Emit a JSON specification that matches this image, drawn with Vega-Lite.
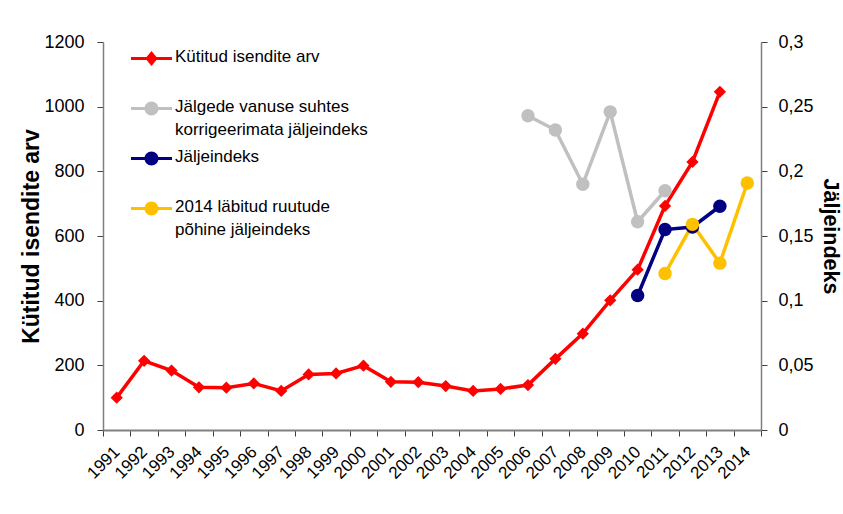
{
  "$schema": "https://vega.github.io/schema/vega-lite/v6.json",
  "autosize": {"type": "none"},
  "width": 658,
  "height": 388,
  "padding": {"left": 103, "top": 42, "right": 82, "bottom": 84},
  "config": {
    "view": {"stroke": null},
    "font": "Liberation Sans",
    "axis": {"labelFont": "Liberation Sans", "titleFont": "Liberation Sans", "labelColor": "#000000", "titleColor": "#000000", "grid": false, "domainColor": "#808080", "tickColor": "#404040", "domainWidth": 1.5, "tickWidth": 1}
  },
  "datasets": {
    "main": [
      {"year": "1991", "s": "Kütitud isendite arv", "v": 100},
      {"year": "1992", "s": "Kütitud isendite arv", "v": 214},
      {"year": "1993", "s": "Kütitud isendite arv", "v": 184},
      {"year": "1994", "s": "Kütitud isendite arv", "v": 132},
      {"year": "1995", "s": "Kütitud isendite arv", "v": 131},
      {"year": "1996", "s": "Kütitud isendite arv", "v": 144},
      {"year": "1997", "s": "Kütitud isendite arv", "v": 121},
      {"year": "1998", "s": "Kütitud isendite arv", "v": 172},
      {"year": "1999", "s": "Kütitud isendite arv", "v": 175},
      {"year": "2000", "s": "Kütitud isendite arv", "v": 199},
      {"year": "2001", "s": "Kütitud isendite arv", "v": 149},
      {"year": "2002", "s": "Kütitud isendite arv", "v": 148},
      {"year": "2003", "s": "Kütitud isendite arv", "v": 136},
      {"year": "2004", "s": "Kütitud isendite arv", "v": 121},
      {"year": "2005", "s": "Kütitud isendite arv", "v": 127},
      {"year": "2006", "s": "Kütitud isendite arv", "v": 139},
      {"year": "2007", "s": "Kütitud isendite arv", "v": 220},
      {"year": "2008", "s": "Kütitud isendite arv", "v": 298},
      {"year": "2009", "s": "Kütitud isendite arv", "v": 401},
      {"year": "2010", "s": "Kütitud isendite arv", "v": 496},
      {"year": "2011", "s": "Kütitud isendite arv", "v": 693},
      {"year": "2012", "s": "Kütitud isendite arv", "v": 829},
      {"year": "2013", "s": "Kütitud isendite arv", "v": 1046},
      {"year": "2006", "s": "Jälgede vanuse suhtes korrigeerimata jäljeindeks", "v": 0.243},
      {"year": "2007", "s": "Jälgede vanuse suhtes korrigeerimata jäljeindeks", "v": 0.232},
      {"year": "2008", "s": "Jälgede vanuse suhtes korrigeerimata jäljeindeks", "v": 0.190},
      {"year": "2009", "s": "Jälgede vanuse suhtes korrigeerimata jäljeindeks", "v": 0.246},
      {"year": "2010", "s": "Jälgede vanuse suhtes korrigeerimata jäljeindeks", "v": 0.161},
      {"year": "2011", "s": "Jälgede vanuse suhtes korrigeerimata jäljeindeks", "v": 0.185},
      {"year": "2010", "s": "Jäljeindeks", "v": 0.104},
      {"year": "2011", "s": "Jäljeindeks", "v": 0.155},
      {"year": "2012", "s": "Jäljeindeks", "v": 0.157},
      {"year": "2013", "s": "Jäljeindeks", "v": 0.173},
      {"year": "2011", "s": "2014 läbitud ruutude põhine jäljeindeks", "v": 0.121},
      {"year": "2012", "s": "2014 läbitud ruutude põhine jäljeindeks", "v": 0.159},
      {"year": "2013", "s": "2014 läbitud ruutude põhine jäljeindeks", "v": 0.129},
      {"year": "2014", "s": "2014 läbitud ruutude põhine jäljeindeks", "v": 0.191}
    ]
  },
  "data": {"name": "main"},
  "encoding": {
    "x": {
      "field": "year", "type": "ordinal",
      "scale": {"domain": ["1991","1992","1993","1994","1995","1996","1997","1998","1999","2000","2001","2002","2003","2004","2005","2006","2007","2008","2009","2010","2011","2012","2013","2014"], "paddingInner": 0, "paddingOuter": 0},
      "axis": {"title": null, "labelAngle": -45, "labelAlign": "right", "labelBaseline": "middle", "labelFontSize": 17, "labelPadding": 13, "tickBand": "extent", "tickSize": 6, "tickOffset": 0, "domainWidth": 2}
    },
    "color": {
      "field": "s", "type": "nominal",
      "scale": {"domain": ["Kütitud isendite arv", "Jälgede vanuse suhtes korrigeerimata jäljeindeks", "Jäljeindeks", "2014 läbitud ruutude põhine jäljeindeks"], "range": ["#FF0000", "#C0C0C0", "#000080", "#FFC000"]},
      "legend": {
        "title": null, "orient": "none", "legendX": 28, "legendY": -4,
        "labelFontSize": 17, "labelFont": "Liberation Sans", "labelColor": "#000000",
        "symbolSize": 1681, "labelOffset": 3, "rowPadding": 0,
        "labelLimit": 400,
        "labelExpr": "datum.label == 'Jälgede vanuse suhtes korrigeerimata jäljeindeks' ? ['Jälgede vanuse suhtes', 'korrigeerimata jäljeindeks'] : datum.label == '2014 läbitud ruutude põhine jäljeindeks' ? ['2014 läbitud ruutude', 'põhine jäljeindeks'] : [datum.label, ' ']",
        "encode": {
          "symbols": {"update": {
            "shape": {"signal": "datum.value == 'Kütitud isendite arv' ? 'M-1,-0.075 H1 V0.075 H-1 Z M0,-0.36 L0.3,0 L0,0.36 L-0.3,0 Z' : 'M-1,-0.075 H1 V0.075 H-1 Z M-0.34,0 A0.34,0.34 0 1,1 0.34,0 A0.34,0.34 0 1,1 -0.34,0 Z'"},
            "fill": {"scale": "color", "field": "value"},
            "stroke": {"value": null},
            "strokeWidth": {"value": 0},
            "opacity": {"value": 1}
          }},
          "labels": {"update": {"baseline": {"value": "top"}, "dy": {"value": -10}, "lineHeight": {"value": 23}}}
        }
      }
    }
  },
  "layer": [
    {
      "transform": [{"filter": "datum.s == 'Kütitud isendite arv'"}],
      "encoding": {
        "y": {"field": "v", "type": "quantitative", "scale": {"domain": [0, 1200]},
          "axis": {"orient": "left", "title": "Kütitud isendite arv", "titleFontSize": 23, "titleFontWeight": "bold", "titlePadding": 0, "labelFontSize": 18, "labelPadding": 13, "format": "d", "values": [0,200,400,600,800,1000,1200], "tickSize": 6, "domainWidth": 1.5}}
      },
      "layer": [
        {"mark": {"type": "line", "strokeWidth": 3.5}},
        {"mark": {"type": "point", "shape": "diamond", "filled": true, "size": 150, "opacity": 1}}
      ]
    },
    {
      "transform": [{"filter": "datum.s != 'Kütitud isendite arv'"}],
      "encoding": {
        "y": {"field": "v", "type": "quantitative", "scale": {"domain": [0, 0.3]},
          "axis": {"orient": "right", "title": "Jäljeindeks", "titleFontSize": 21.5, "titleFontWeight": "bold", "titlePadding": 5, "labelFontSize": 18, "labelPadding": 11, "values": [0,0.05,0.1,0.15,0.2,0.25,0.3], "labelExpr": "replace(format(datum.value, '.2~f'), '.', ',')", "tickSize": 6, "domainWidth": 1.5}}
      },
      "layer": [
        {"mark": {"type": "line", "strokeWidth": 3.5}},
        {"mark": {"type": "point", "shape": "circle", "filled": true, "size": 180, "opacity": 1}}
      ]
    }
  ],
  "resolve": {"scale": {"y": "independent"}}
}
